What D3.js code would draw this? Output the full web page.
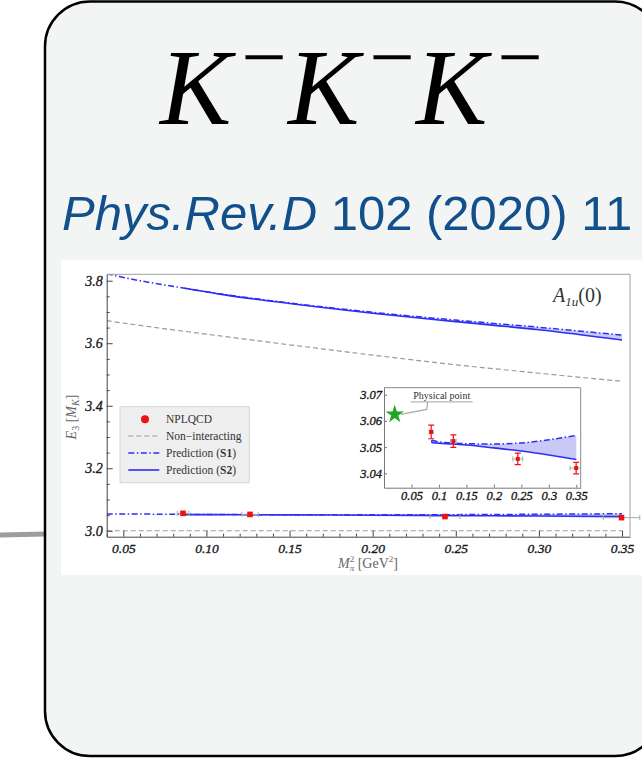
<!DOCTYPE html>
<html>
<head>
<meta charset="utf-8">
<script src="https://cdn.jsdelivr.net/npm/d3@7"></script>
<style>
  body { margin: 0; background: #fff; }
  svg { display: block; }
</style>
</head>
<body>
<svg id="card" width="642" height="764"></svg>
<script>
// ---------- text ----------
const titleParticles = ["K", "K", "K"];
const citeJournal = "Phys.Rev.D";
const citeVolume = " 102 (2020) 11";
const irrepLabel = ["A", "1u", "(0)"];
const legendLabels = ["NPLQCD", "Non\u2212interacting", "Prediction (", "Prediction ("];
const legendBold = ["", "", "S1", "S2"];

// ---------- ticks ----------
const xTicksMain = [0.05, 0.10, 0.15, 0.20, 0.25, 0.30, 0.35];
const yTicksMain = [3.0, 3.2, 3.4, 3.6, 3.8];
const xTicksInset = [0.05, 0.1, 0.15, 0.2, 0.25, 0.3, 0.35];
const yTicksInset = [3.04, 3.05, 3.06, 3.07];

// ---------- lattice data (NPLQCD) ----------
const latticeM2 = [0.0859, 0.1262, 0.2435, 0.3497];
const latticeE = [3.0558, 3.0523, 3.0455, 3.0420];
const latticeEErr = [0.0026, 0.0024, 0.0022, 0.0022];
const latticeM2Err = [0.0035, 0.005, 0.009, 0.011];

// physical point
const physM2 = 0.0195;
const physE = 3.0625;

// ---------- non-interacting levels ----------
const freeM2 = [0.04, 0.06, 0.0869, 0.10, 0.15, 0.20, 0.25, 0.30, 0.35];
const freeUpper = [3.672, 3.657, 3.638, 3.629, 3.595, 3.562, 3.531, 3.504, 3.478];
const freeLower = [3.0, 3.0, 3.0, 3.0, 3.0, 3.0, 3.0, 3.0, 3.0];

// ---------- predictions, ground level ----------
const s1LowM2 = [0.04, 0.06, 0.0869, 0.10, 0.125, 0.15, 0.20, 0.25, 0.30, 0.35];
const s1Low = [3.0540, 3.0534, 3.0526, 3.0520, 3.0516, 3.0513, 3.0512, 3.0516, 3.0528, 3.0545];
const s2LowM2 = [0.0869, 0.10, 0.125, 0.15, 0.20, 0.25, 0.30, 0.35];
const s2Low = [3.0517, 3.0515, 3.0512, 3.0508, 3.0497, 3.0485, 3.0470, 3.0453];

// ---------- predictions, excited level ----------
const s1UpM2 = [0.04, 0.06, 0.0869, 0.112, 0.15, 0.20, 0.25, 0.30, 0.35];
const s1Up = [3.822, 3.800, 3.776, 3.755, 3.729, 3.699, 3.674, 3.651, 3.626];
const s2UpM2 = [0.0869, 0.112, 0.15, 0.20, 0.25, 0.30, 0.35];
const s2Up = [3.776, 3.754, 3.727, 3.696, 3.669, 3.643, 3.610];

// ---------- styles ----------
const BLUE = "#2e2ef5";
const BAND = "#c9c9f7";
const GREY = "#9a9a9a";
const RED = "#ee1111";
const SERIF = "'Liberation Serif', 'Times New Roman', serif";
const SANS = "'Liberation Sans', Arial, sans-serif";
const DASHDOT = "6,2.5,1.5,2.5";

const svg = d3.select("#card");
const zip = (xs, ys) => xs.map((x, i) => ({x, y: ys[i]}));

// connector from the left
svg.append("line")
  .attr("x1", 0).attr("y1", 535).attr("x2", 46).attr("y2", 534)
  .attr("stroke", "#9d9d9d").attr("stroke-width", 5);

// card
svg.append("rect")
  .attr("x", 45).attr("y", 1.5).attr("width", 615).attr("height", 754.5)
  .attr("rx", 45).attr("ry", 45)
  .attr("fill", "#f3f5f5").attr("stroke", "#000").attr("stroke-width", 2.5);

// title K-K-K-
const title = svg.append("g");
titleParticles.forEach((p, i) => {
  title.append("text")
    .attr("x", 160 + i * 128).attr("y", 124)
    .attr("font-family", SERIF).attr("font-style", "italic")
    .attr("font-size", 107).attr("fill", "#000")
    .text(p);
  title.append("text")
    .attr("x", 264 + i * 128).attr("y", 84)
    .attr("text-anchor", "middle")
    .attr("font-family", SERIF).attr("font-size", 80).attr("fill", "#000")
    .text("\u2212");
});

// citation
const cite = svg.append("text")
  .attr("x", 62).attr("y", 230)
  .attr("font-family", SANS).attr("font-size", 49).attr("fill", "#11508a");
cite.append("tspan").attr("font-style", "italic").text(citeJournal);
cite.append("tspan").text(citeVolume);

// figure panel
svg.append("rect")
  .attr("x", 61).attr("y", 260).attr("width", 600).attr("height", 315)
  .attr("fill", "#fff");

// ================= main plot =================
const M = {left: 106.7, right: 630, top: 274.3, bottom: 536.7};
const x = d3.scaleLinear().domain([0.04, 0.3548]).range([M.left, M.right]);
const y = d3.scaleLinear().domain([2.981, 3.8205]).range([M.bottom, M.top]);

svg.append("clipPath").attr("id", "mainClip")
  .append("rect").attr("x", M.left).attr("y", M.top)
  .attr("width", M.right - M.left).attr("height", M.bottom - M.top);

const plot = svg.append("g").attr("clip-path", "url(#mainClip)");
const curve = d3.curveMonotoneX;
const lineMain = d3.line().x(d => x(d.x)).y(d => y(d.y)).curve(curve);

// shaded region between the S1 and S2 curves
function band(g, xs, lo, s1xs, s1ys, xS, yS) {
  const pts = xs.map((xv, i) => ({x: xv, lo: lo[i], hi: s1ys[s1xs.indexOf(xv)]}));
  const area = d3.area().x(d => xS(d.x)).y0(d => yS(d.lo)).y1(d => yS(d.hi)).curve(curve);
  g.append("path").attr("d", area(pts)).attr("fill", BAND).attr("stroke", "none");
}

band(plot, s2UpM2, s2Up, s1UpM2, s1Up, x, y);
band(plot, s2LowM2, s2Low, s1LowM2, s1Low, x, y);

// non-interacting
[freeUpper, freeLower].forEach(ys => {
  plot.append("path").attr("d", lineMain(zip(freeM2, ys)))
    .attr("fill", "none").attr("stroke", GREY).attr("stroke-width", 1.2)
    .attr("stroke-dasharray", "5,3");
});

// S2 solid
[[s2UpM2, s2Up], [s2LowM2, s2Low]].forEach(([xs, ys]) => {
  plot.append("path").attr("d", lineMain(zip(xs, ys)))
    .attr("fill", "none").attr("stroke", BLUE).attr("stroke-width", 1.6);
});
// S1 dash-dot
[[s1UpM2, s1Up], [s1LowM2, s1Low]].forEach(([xs, ys]) => {
  plot.append("path").attr("d", lineMain(zip(xs, ys)))
    .attr("fill", "none").attr("stroke", BLUE).attr("stroke-width", 1.5)
    .attr("stroke-dasharray", DASHDOT);
});

// lattice points with error bars
const lat = latticeM2.map((m, i) => ({x: m, y: latticeE[i], ex: latticeM2Err[i], ey: latticeEErr[i]}));
const pm = svg.append("g");
lat.forEach(d => {
  pm.append("line").attr("x1", x(d.x - d.ex)).attr("x2", x(d.x + d.ex))
    .attr("y1", y(d.y)).attr("y2", y(d.y)).attr("stroke", "#aaa").attr("stroke-width", 1);
  [d.x - d.ex, d.x + d.ex].forEach(e => pm.append("line")
    .attr("x1", x(e)).attr("x2", x(e)).attr("y1", y(d.y) - 2.5).attr("y2", y(d.y) + 2.5)
    .attr("stroke", "#aaa").attr("stroke-width", 1));
  pm.append("line").attr("x1", x(d.x)).attr("x2", x(d.x))
    .attr("y1", y(d.y - d.ey)).attr("y2", y(d.y + d.ey)).attr("stroke", RED).attr("stroke-width", 1.2);
  pm.append("rect").attr("x", x(d.x) - 2.8).attr("y", y(d.y) - 2.8)
    .attr("width", 5.6).attr("height", 5.6).attr("fill", RED);
});

// axes of the main plot
function styleAxis(g, size) {
  g.selectAll("text").attr("font-family", SERIF).attr("font-style", "italic")
    .attr("font-size", size).attr("fill", "#1a1a1a")
    .attr("stroke", "#1a1a1a").attr("stroke-width", 0.35);
  g.selectAll("line").attr("stroke", "#444");
  g.select(".domain").attr("stroke", "#444");
}
const xAxis = svg.append("g").attr("transform", `translate(0,${M.bottom})`)
  .call(d3.axisBottom(x).tickValues(xTicksMain).tickFormat(d3.format(".2f"))
    .tickSizeInner(-6).tickSizeOuter(0).tickPadding(7));
styleAxis(xAxis, 13.5);
const xMinor = d3.range(4, 36).map(v => v / 100).filter(v => v % 0.05 > 0.001 && 0.05 - (v % 0.05) > 0.001);
svg.append("g").attr("transform", `translate(0,${M.bottom})`)
  .call(d3.axisBottom(x).tickValues(xMinor).tickFormat("").tickSizeInner(-3).tickSizeOuter(0))
  .call(g => { g.select(".domain").remove(); g.selectAll("line").attr("stroke", "#444"); });

const yAxis = svg.append("g").attr("transform", `translate(${M.left},0)`)
  .call(d3.axisLeft(y).tickValues(yTicksMain).tickFormat(d3.format(".1f"))
    .tickSizeInner(-6).tickSizeOuter(0).tickPadding(4));
styleAxis(yAxis, 14);
const yMinor = d3.range(0, 17).map(i => 3.0 + i * 0.05).filter((v, i) => i % 4 !== 0);
svg.append("g").attr("transform", `translate(${M.left},0)`)
  .call(d3.axisLeft(y).tickValues(yMinor).tickFormat("").tickSizeInner(-3).tickSizeOuter(0))
  .call(g => { g.select(".domain").remove(); g.selectAll("line").attr("stroke", "#444"); });

// top and right frame edges
svg.append("path")
  .attr("d", `M${M.left},${M.top}H${M.right}V${M.bottom}`)
  .attr("fill", "none").attr("stroke", "#a0a0a0").attr("stroke-width", 1);

// axis titles
const yl = svg.append("text")
  .attr("transform", "translate(76,417) rotate(-90)")
  .attr("text-anchor", "middle").attr("font-family", SERIF).attr("font-size", 14).attr("fill", "#666");
yl.append("tspan").attr("font-style", "italic").text("E");
yl.append("tspan").attr("font-size", 10).attr("dy", 3).text("3");
yl.append("tspan").attr("dy", -3).text(" [");
yl.append("tspan").attr("font-style", "italic").text("M");
yl.append("tspan").attr("font-style", "italic").attr("font-size", 10).attr("dy", 3).text("K");
yl.append("tspan").attr("dy", -3).text("]");

const xl = svg.append("text")
  .attr("x", 368).attr("y", 568)
  .attr("text-anchor", "middle").attr("font-family", SERIF).attr("font-size", 14).attr("fill", "#666");
xl.append("tspan").attr("font-style", "italic").text("M");
xl.append("tspan").attr("font-size", 9).attr("dy", -6).text("2");
xl.append("tspan").attr("font-style", "italic").attr("font-size", 9).attr("dx", -4.5).attr("dy", 9).text("\u03c0");
xl.append("tspan").attr("dy", -3).text(" [GeV");
xl.append("tspan").attr("font-size", 9).attr("dy", -6).text("2");
xl.append("tspan").attr("dy", 6).text("]");

// irrep label
const ir = svg.append("text")
  .attr("x", 553).attr("y", 302)
  .attr("font-family", SERIF).attr("font-size", 20).attr("fill", "#333");
ir.append("tspan").attr("font-style", "italic").text(irrepLabel[0]);
ir.append("tspan").attr("font-style", "italic").attr("font-size", 13).attr("dy", 4).text(irrepLabel[1]);
ir.append("tspan").attr("dy", -4).text(irrepLabel[2]);

// legend
const lg = svg.append("g");
lg.append("rect").attr("x", 120).attr("y", 406.7).attr("width", 129.3).attr("height", 76)
  .attr("fill", "#efefef").attr("stroke", "#d6d6d6").attr("stroke-width", 1);
const rowY = [419.3, 436, 453, 470];
lg.append("circle").attr("cx", 145).attr("cy", rowY[0]).attr("r", 4).attr("fill", RED);
lg.append("line").attr("x1", 128.3).attr("x2", 159.3).attr("y1", rowY[1]).attr("y2", rowY[1])
  .attr("stroke", GREY).attr("stroke-width", 1.2).attr("stroke-dasharray", "5,3");
lg.append("line").attr("x1", 128.3).attr("x2", 159.3).attr("y1", rowY[2]).attr("y2", rowY[2])
  .attr("stroke", BLUE).attr("stroke-width", 1.5).attr("stroke-dasharray", DASHDOT);
lg.append("line").attr("x1", 128.3).attr("x2", 159.3).attr("y1", rowY[3]).attr("y2", rowY[3])
  .attr("stroke", BLUE).attr("stroke-width", 1.6);
legendLabels.forEach((t, i) => {
  const tx = lg.append("text").attr("x", 166).attr("y", rowY[i] + 4)
    .attr("font-family", SERIF).attr("font-size", 11.5).attr("fill", "#333");
  tx.append("tspan").text(t);
  if (legendBold[i]) {
    tx.append("tspan").attr("font-weight", "bold").text(legendBold[i]);
    tx.append("tspan").text(")");
  }
});

// ================= inset =================
const I = {left: 384, right: 580.7, top: 387.7, bottom: 487.7};
const xi = d3.scaleLinear().domain([0, 0.358]).range([I.left, I.right]);
const yi = d3.scaleLinear().domain([3.0345, 3.0727]).range([I.bottom, I.top]);
const lineIn = d3.line().x(d => xi(d.x)).y(d => yi(d.y)).curve(curve);

svg.append("rect").attr("x", I.left).attr("y", I.top)
  .attr("width", I.right - I.left).attr("height", I.bottom - I.top).attr("fill", "#fff");
svg.append("clipPath").attr("id", "insetClip")
  .append("rect").attr("x", I.left).attr("y", I.top)
  .attr("width", I.right - I.left).attr("height", I.bottom - I.top);
const ins = svg.append("g").attr("clip-path", "url(#insetClip)");

band(ins, s2LowM2, s2Low, s1LowM2, s1Low, xi, yi);
const s1In = zip(s1LowM2, s1Low).filter(d => d.x >= s2LowM2[0]);
ins.append("line").attr("x1", xi(s2LowM2[0])).attr("x2", xi(s2LowM2[0]))
  .attr("y1", yi(s2Low[0])).attr("y2", yi(s1In[0].y)).attr("stroke", BLUE).attr("stroke-width", 1.5);
ins.append("path").attr("d", lineIn(zip(s2LowM2, s2Low)))
  .attr("fill", "none").attr("stroke", BLUE).attr("stroke-width", 1.6);
ins.append("path").attr("d", lineIn(s1In))
  .attr("fill", "none").attr("stroke", BLUE).attr("stroke-width", 1.5).attr("stroke-dasharray", DASHDOT);

// lattice points in inset
lat.forEach(d => {
  const cx = xi(d.x), cy = yi(d.y);
  ins.append("line").attr("x1", xi(d.x - d.ex)).attr("x2", xi(d.x + d.ex)).attr("y1", cy).attr("y2", cy)
    .attr("stroke", "#aaa").attr("stroke-width", 1);
  [d.x - d.ex, d.x + d.ex].forEach(e => ins.append("line")
    .attr("x1", xi(e)).attr("x2", xi(e)).attr("y1", cy - 2.5).attr("y2", cy + 2.5)
    .attr("stroke", "#aaa").attr("stroke-width", 1));
  ins.append("line").attr("x1", cx).attr("x2", cx)
    .attr("y1", yi(d.y - d.ey)).attr("y2", yi(d.y + d.ey)).attr("stroke", RED).attr("stroke-width", 1.2);
  [d.y - d.ey, d.y + d.ey].forEach(e => ins.append("line")
    .attr("x1", cx - 3).attr("x2", cx + 3).attr("y1", yi(e)).attr("y2", yi(e))
    .attr("stroke", RED).attr("stroke-width", 1.2));
  ins.append("rect").attr("x", cx - 2).attr("y", cy - 2).attr("width", 4).attr("height", 4).attr("fill", RED);
});

// physical point marker with callout
const sx = xi(physM2), sy = yi(physE);
ins.append("path")
  .attr("d", `M${sx + 6},${sy}L${sx + 32},${sy - 5}L${sx + 33},${sy - 12.5}`)
  .attr("fill", "none").attr("stroke", "#aaa").attr("stroke-width", 1.2);
ins.append("line").attr("x1", sx + 16).attr("x2", sx + 78).attr("y1", sy - 12.5).attr("y2", sy - 12.5)
  .attr("stroke", "#b5b5b5").attr("stroke-width", 1.4);
ins.append("path")
  .attr("d", d3.symbol(d3.symbolStar, 105)())
  .attr("transform", `translate(${sx},${sy})`)
  .attr("fill", "#1fa81f");
ins.append("text").attr("x", sx + 47).attr("y", sy - 15.5).attr("text-anchor", "middle")
  .attr("font-family", SERIF).attr("font-size", 10).attr("fill", "#333").text("Physical point");

// inset axes
const xiAxis = svg.append("g").attr("transform", `translate(0,${I.bottom})`)
  .call(d3.axisBottom(xi).tickValues(xTicksInset).tickFormat(d3.format("~g"))
    .tickSizeInner(-3).tickSizeOuter(0).tickPadding(3));
styleAxis(xiAxis, 12.5);
xiAxis.selectAll("line, .domain").attr("stroke", "#777");
const yiAxis = svg.append("g").attr("transform", `translate(${I.left},0)`)
  .call(d3.axisLeft(yi).tickValues(yTicksInset).tickFormat(d3.format(".2f"))
    .tickSizeInner(-3).tickSizeOuter(0).tickPadding(2));
styleAxis(yiAxis, 12.5);
yiAxis.selectAll("line, .domain").attr("stroke", "#777");
svg.append("path")
  .attr("d", `M${I.left},${I.top}H${I.right}V${I.bottom}`)
  .attr("fill", "none").attr("stroke", "#888").attr("stroke-width", 1);
</script>
</body>
</html>
